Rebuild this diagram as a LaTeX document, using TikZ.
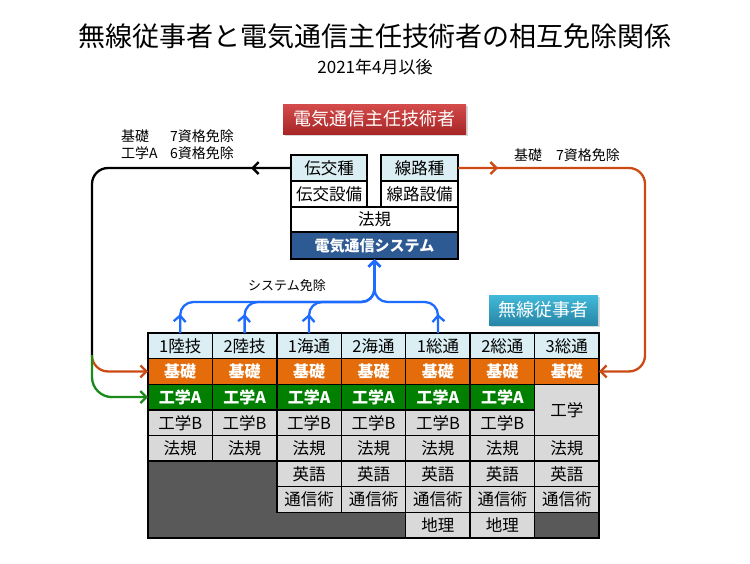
\documentclass[tikz,border=0pt]{standalone}
\usepackage{fontspec}
\setmainfont{Noto Sans CJK JP}
\usepackage{tikz}
\usetikzlibrary{arrows.meta, positioning, decorations.markings, shadows}
\definecolor{hdrbg}{HTML}{DAEEF3}
\definecolor{kiso}{HTML}{E46C0A}
\definecolor{kogA}{HTML}{007F00}
\definecolor{cellbg}{HTML}{D9D9D9}
\definecolor{voidbg}{HTML}{595959}
\definecolor{sysbg}{HTML}{2E5A94}
\definecolor{redtop}{HTML}{D44B4B}
\definecolor{redbot}{HTML}{A82626}
\definecolor{tealtop}{HTML}{42BADA}
\definecolor{tealbot}{HTML}{2886A6}
\definecolor{exline}{HTML}{CC4A14}
\definecolor{grline}{HTML}{1A8A1A}
\definecolor{sysline}{HTML}{1E6BFF}
\tikzset{markat/.style={postaction={decorate},
  decoration={markings, mark=at position #1 with {\arrow{>}}}}}

\begin{document}
\begin{tikzpicture}[x=1pt, y=-1pt, >={Straight Barb[length=6pt,width=12pt]}]
  \tikzstyle{cell}=[rectangle, draw=black, line width=1.4pt, outer sep=0pt,
                    inner sep=0pt, minimum width=64.43pt, minimum height=25.63pt,
                    fill=cellbg, font=\fontsize{16.5}{18}\selectfont]
  \tikzstyle{hot}=[text=white, font=\fontsize{16}{18}\selectfont\bfseries]
  \tikzstyle{topcell}=[rectangle, draw=black, line width=1.4pt, outer sep=0pt,
                       inner sep=0pt, minimum height=26pt, fill=white,
                       font=\fontsize{16.5}{18}\selectfont]
  \tikzstyle{badge}=[rectangle, minimum height=30pt, text=white, inner sep=0pt,
                     font=\fontsize{18}{20}\selectfont,
                     drop shadow={shadow xshift=1.5pt, shadow yshift=-1.5pt, opacity=0.3}]
  \tikzstyle{lbl}=[inner sep=0pt, font=\fontsize{14}{17}\selectfont]
  \tikzstyle{link}=[line width=2.3pt, rounded corners=16pt]
  \def\colw{64.43}
  \def\rowh{25.63}
  \useasboundingbox[fill=white] (0,0) rectangle (750,563);

  % タイトル
  \node[font=\fontsize{27}{30}\selectfont] (title) at (375,36)
    {無線従事者と電気通信主任技術者の相互免除関係};
  \node[font=\fontsize{17}{20}\selectfont] (sub) at (375,67) {2021年4月以後};

  % 電気通信主任技術者
  \node[badge, minimum width=183pt, top color=redtop, bottom color=redbot] (denki)
    at (374.5,119) {電気通信主任技術者};
  \node[topcell, fill=hdrbg, minimum width=76pt] (dk) at (329,168) {伝交種};
  \node[topcell, minimum width=76pt, below=0pt of dk] (dks) {伝交設備};
  \node[topcell, fill=hdrbg, minimum width=77pt] (sk) at (419.5,168) {線路種};
  \node[topcell, minimum width=77pt, below=0pt of sk] (sks) {線路設備};
  \node[topcell, minimum width=167pt, minimum height=25pt] (hk) at (374.5,219.5) {法規};
  \node[topcell, minimum width=167pt, minimum height=27pt, fill=sysbg, below=0pt of hk,
        text=white, font=\fontsize{15}{18}\selectfont\bfseries] (sys) {電気通信システム};

  % 無線従事者
  \node[badge, minimum width=109pt, top color=tealtop, bottom color=tealbot] (musen)
    at (543.5,310) {無線従事者};
  \fill[voidbg] (148,333) rectangle (599,538);
  \foreach \i/\nm in {1/1陸技,2/2陸技,3/1海通,4/2海通,5/1総通,6/2総通,7/3総通}{
    \node[cell, fill=hdrbg] (h\i) at ({148+(\i-0.5)*\colw},{333+0.5*\rowh}) {\nm};
    \node[cell, fill=kiso, hot] (k\i) at ({148+(\i-0.5)*\colw},{333+1.5*\rowh}) {基礎};
    \node[cell] (l\i) at ({148+(\i-0.5)*\colw},{333+4.5*\rowh}) {法規};
  }
  \foreach \i in {1,...,6}{
    \node[cell, fill=kogA, hot] (a\i) at ({148+(\i-0.5)*\colw},{333+2.5*\rowh}) {工学A};
    \node[cell] (b\i) at ({148+(\i-0.5)*\colw},{333+3.5*\rowh}) {工学B};
  }
  \node[cell, minimum height={2*\rowh}] (a7) at ({148+6.5*\colw},{333+3*\rowh}) {工学};
  \foreach \i in {3,...,7}{
    \node[cell] (e\i) at ({148+(\i-0.5)*\colw},{333+5.5*\rowh}) {英語};
    \node[cell] (t\i) at ({148+(\i-0.5)*\colw},{333+6.5*\rowh}) {通信術};
  }
  \foreach \i in {5,6}{
    \node[cell] (g\i) at ({148+(\i-0.5)*\colw},{333+7.5*\rowh}) {地理};
  }
  \draw[line width=1.6pt] (148,333) rectangle (599,538);

  % 免除の矢印
  \coordinate (split) at (92,355);
  \coordinate (fork) at (374.5,302);
  \draw[link, markat=40pt] (dk.west) -- (92,168) -- (split);
  \draw[link, exline, ->] (split) |- (k1.west);
  \draw[link, grline, rounded corners=20pt, ->] (split) |- (a1.west);
  \draw[link, exline, ->, markat=40pt] (sk.east) -- (645,168) |- (k7.east);
  \foreach \c in {h1,h2,h3,h5}{
    \draw[link, sysline, rounded corners=13pt, ->, markat=19pt] (\c.north) |- (fork) -- (sys.south);
  }

  % ラベル
  \node[lbl, anchor=west, align=left] (lblL) at (121,144.5)
    {\makebox[49pt][l]{基礎}7資格免除\\\makebox[49pt][l]{工学A}6資格免除};
  \node[lbl, anchor=west] (lblR) at (514,155) {基礎\hspace{14pt}7資格免除};
  \node[lbl, font=\fontsize{13}{15}\selectfont] (sysmen) at (287,286) {システム免除};
\end{tikzpicture}
\end{document}
